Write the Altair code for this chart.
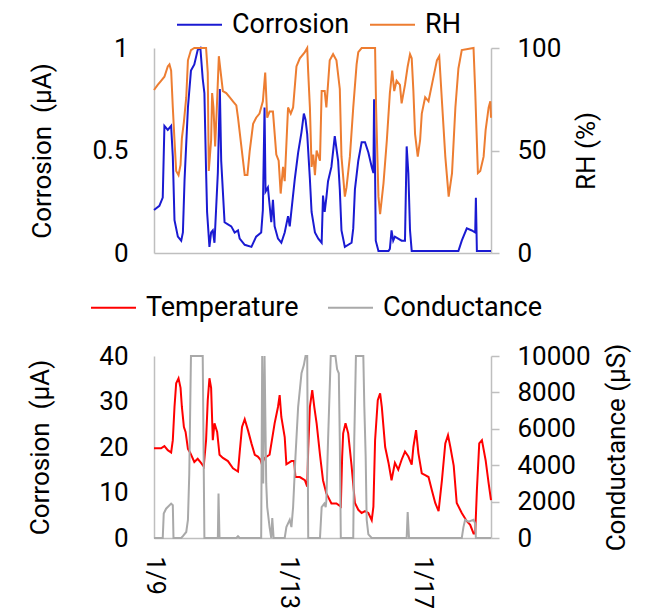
import altair as alt
import pandas as pd

# ---- data (day offset from 1/9 00:00, value) ----
corr_day = [0.00, 0.16, 0.26, 0.31, 0.41, 0.51, 0.56, 0.61, 0.71, 0.81, 0.86, 0.91, 1.01, 1.10, 1.20, 1.30,
            1.38, 1.45, 1.50, 1.55, 1.58, 1.65, 1.70, 1.75, 1.80, 1.90, 1.96, 2.00, 2.10, 2.20, 2.30, 2.40,
            2.50, 2.55, 2.70, 2.90, 3.04, 3.19, 3.24, 3.29, 3.32, 3.39, 3.49, 3.54, 3.59, 3.69, 3.79, 3.89,
            3.99, 4.04, 4.19, 4.29, 4.39, 4.46, 4.51, 4.56, 4.64, 4.69, 4.79, 4.89, 4.99, 5.03, 5.08, 5.13,
            5.18, 5.28, 5.38, 5.48, 5.53, 5.58, 5.68, 5.88, 5.93, 5.98, 6.08, 6.18, 6.28, 6.38, 6.48, 6.53,
            6.55, 6.58, 6.60, 6.68, 6.98, 7.02, 7.07, 7.12, 7.17, 7.37, 7.47, 7.52, 7.57, 7.62, 7.67, 9.06,
            9.16, 9.31, 9.46, 9.56, 9.58, 9.61, 10.03]
corr_val = [0.21, 0.23, 0.27, 0.62, 0.60, 0.62, 0.47, 0.16, 0.08, 0.06, 0.10, 0.36, 0.71, 0.89, 0.92, 0.99,
            1.00, 0.85, 0.78, 0.40, 0.20, 0.03, 0.10, 0.11, 0.05, 0.39, 0.80, 0.45, 0.15, 0.14, 0.13, 0.10,
            0.11, 0.07, 0.04, 0.03, 0.08, 0.10, 0.21, 0.71, 0.30, 0.32, 0.15, 0.26, 0.13, 0.07, 0.05, 0.10,
            0.18, 0.13, 0.36, 0.49, 0.59, 0.68, 0.65, 0.58, 0.36, 0.20, 0.10, 0.07, 0.05, 0.28, 0.20, 0.27,
            0.35, 0.42, 0.57, 0.45, 0.31, 0.11, 0.03, 0.05, 0.12, 0.31, 0.45, 0.54, 0.54, 0.49, 0.42, 0.39,
            0.75, 0.39, 0.06, 0.01, 0.01, 0.02, 0.11, 0.06, 0.08, 0.06, 0.06, 0.52, 0.39, 0.11, 0.01, 0.01,
            0.06, 0.12, 0.11, 0.10, 0.27, 0.01, 0.01]

rh_day = [0.00, 0.11, 0.21, 0.31, 0.41, 0.46, 0.51, 0.56, 0.61, 0.66, 0.73, 0.79, 0.83, 0.89, 0.96, 1.01,
          1.10, 1.20, 1.55, 1.60, 1.63, 1.70, 1.73, 1.77, 1.82, 1.87, 1.93, 2.00, 2.05, 2.15, 2.25, 2.35,
          2.45, 2.50, 2.60, 2.70, 2.78, 2.85, 2.95, 3.04, 3.14, 3.24, 3.31, 3.37, 3.44, 3.54, 3.64, 3.71,
          3.77, 3.84, 3.89, 3.99, 4.07, 4.14, 4.24, 4.34, 4.49, 4.56, 4.59, 4.64, 4.69, 4.74, 4.79, 4.84,
          4.94, 4.99, 5.08, 5.13, 5.23, 5.33, 5.43, 5.53, 5.58, 5.68, 5.73, 5.83, 5.93, 6.03, 6.08, 6.18,
          6.58, 6.61, 6.68, 6.73, 6.83, 6.93, 7.02, 7.09, 7.15, 7.22, 7.32, 7.37, 7.47, 7.55, 7.62, 7.67,
          7.72, 7.77, 7.85, 7.92, 7.97, 8.07, 8.17, 8.27, 8.42, 8.49, 8.57, 8.67, 8.77, 8.87, 8.97, 9.06,
          9.16, 9.51, 9.56, 9.64, 9.71, 9.81, 9.87, 9.96, 10.01, 10.03]
rh_val = [79.5, 82, 84, 86, 91, 92, 89, 71, 55, 40, 38, 43, 56, 64, 76, 94,
          99, 100, 100, 88, 40, 55, 78, 71, 52, 71, 96, 86, 79, 78, 76, 74,
          72, 66, 52, 38, 38, 50, 63, 66, 68, 74, 88, 66, 69, 69, 48, 45,
          29, 42, 35, 71, 68, 71, 91, 95, 98, 100, 88, 71, 42, 48, 38, 50,
          45, 79, 79, 71, 94, 97, 94, 80, 47, 27.5, 32, 47, 71, 92, 98, 100,
          100, 71, 27.5, 19, 34, 55, 78, 89, 79, 84, 82, 73, 82, 91, 97, 95,
          79, 58, 47, 55, 68, 76, 74, 82, 94, 96, 74, 47, 27.5, 39, 71, 90,
          99, 100, 79, 39, 40, 47, 60, 71, 74, 66]

temp_day = [0.00, 0.21, 0.31, 0.41, 0.51, 0.56, 0.61, 0.66, 0.73, 0.79, 0.83, 0.89, 0.94, 1.01, 1.08, 1.20,
            1.30, 1.40, 1.48, 1.55, 1.60, 1.65, 1.70, 1.75, 1.80, 1.88, 1.95, 2.05, 2.20, 2.35, 2.50, 2.55,
            2.62, 2.70, 2.80, 2.90, 3.00, 3.09, 3.17, 3.21, 3.29, 3.44, 3.59, 3.69, 3.74, 3.79, 3.89, 3.94,
            4.09, 4.17, 4.21, 4.34, 4.49, 4.56, 4.59, 4.64, 4.71, 4.77, 4.84, 4.94, 5.03, 5.13, 5.28, 5.43,
            5.56, 5.60, 5.63, 5.70, 5.78, 5.88, 5.98, 6.08, 6.18, 6.28, 6.38, 6.48, 6.53, 6.58, 6.66, 6.73,
            6.78, 6.88, 6.98, 7.07, 7.17, 7.27, 7.37, 7.47, 7.57, 7.67, 7.72, 7.80, 7.87, 7.97, 8.07, 8.17,
            8.27, 8.37, 8.47, 8.57, 8.67, 8.75, 8.82, 8.92, 9.01, 9.16, 9.31, 9.41, 9.51, 9.56, 9.61, 9.68,
            9.76, 9.87, 9.96, 10.03]
temp_val = [19.7, 19.7, 20.2, 19.3, 18.8, 21.5, 28.8, 34, 35.1, 33, 28.8, 24.4, 23.3, 19.6, 18.7, 16.7,
            17.4, 16.5, 15.7, 21.5, 30.3, 35.1, 33, 21.5, 25.2, 23.3, 18.3, 17.6, 16.9, 15.3, 14.6, 18.8,
            24.4, 26.1, 23.6, 20.8, 18.3, 17.9, 17.2, 16.2, 17.6, 18.3, 25.2, 28.8, 31.4, 26.6, 22.2, 16.2,
            16.9, 16.9, 13.4, 13.4, 12.7, 11.3, 19.6, 28.8, 32.5, 28.8, 25.2, 18.3, 12.7, 9.8, 7.6, 7.6,
            6.9, 17.8, 23, 25.2, 23, 15.9, 7.7, 6.2, 5.5, 5.9, 5.5, 3.9, 6.9, 21.5, 30.3, 31.8,
            28.8, 20, 16.5, 12.7, 16.5, 15.0, 17.2, 19.0, 17.9, 16.1, 20, 23.7, 18.6, 14.2, 13.8, 13.4,
            10.5, 7.7, 5.9, 12.7, 20.8, 22.6, 20, 15.9, 7.7, 5.5, 3.7, 2.9, 1.0, 1.0, 10.5, 20.8,
            21.5, 17.1, 12.0, 8.3]

cond_day = [0.00, 0.26, 0.29, 0.36, 0.51, 0.56, 0.58, 0.81, 0.86, 0.96, 1.01, 1.05, 1.10, 1.45, 1.50, 1.90,
            1.92, 1.95, 2.45, 2.50, 2.55, 3.19, 3.22, 3.25, 3.29, 3.34, 3.37, 3.44, 3.49, 3.52, 3.56, 3.89,
            3.94, 4.04, 4.09, 4.14, 4.21, 4.29, 4.39, 4.46, 4.51, 4.56, 4.59, 4.94, 4.99, 5.07, 5.11, 5.13,
            5.18, 5.26, 5.40, 5.45, 5.50, 5.53, 5.56, 5.93, 5.96, 6.01, 6.23, 6.26, 6.30, 6.33, 6.38, 6.48,
            7.52, 7.55, 7.59, 9.16, 9.21, 9.26, 9.36, 9.51, 9.56, 9.58, 10.03]
cond_val = [0, 0, 1340, 1610, 1890, 1800, 0, 0, 100, 330, 1000, 3540, 10000, 10000, 0, 0,
            2440, 0, 0, 100, 0, 0, 10000, 3000, 10000, 3000, 1700, 600, 0, 1100, 0, 0,
            600, 1000, 600, 1700, 4460, 7210, 9050, 9500, 10000, 10000, 0, 0, 1700, 1890, 1700, 2070,
            5350, 10000, 10000, 9270, 9050, 5350, 0, 0, 5350, 10000, 10000, 7210, 4460, 1000, 200, 0,
            0, 1430, 0, 0, 600, 1000, 900, 1000, 800, 0, 0]

top_series = ["Corrosion", "RH"]
top_colors = ["#1a1ad2", "#ed7d31"]
bot_series = ["Temperature", "Conductance"]
bot_colors = ["#ff0000", "#a9a9a9"]
date_ticks = [0, 4, 8]

FONT = "Roboto"
GRAY = "#bfbfbf"
FS = 26
LFS = 27
W, H1, H2 = 337, 205, 182
XMAX = 10.03


def frame(days, vals, name):
    return pd.DataFrame({"day": days, "value": vals, "series": name})


df_corr = frame(corr_day, corr_val, top_series[0])
df_rh = frame(rh_day, rh_val, top_series[1])
df_temp = frame(temp_day, temp_val, bot_series[0])
df_cond = frame(cond_day, cond_val, bot_series[1])

xscale = alt.Scale(domain=[0, XMAX], nice=False, zero=False)

x_top = alt.X("day:Q", scale=xscale,
              axis=alt.Axis(title=None, labels=False, ticks=False, grid=False,
                            domainColor=GRAY, domainWidth=1.5))
x_bot = alt.X("day:Q", scale=xscale,
              axis=alt.Axis(title=None, values=date_ticks, labelExpr="'1/' + (9 + datum.value)",
                            labelAngle=90, labelPadding=18, labelFontSize=25, ticks=False, grid=False,
                            domainColor=GRAY, domainWidth=1.5))


def left_axis(vals, title, tpad, fmt):
    return alt.Axis(orient="left", values=vals, format=fmt, title=title, ticks=False, tickSize=0,
                    labelPadding=26, titlePadding=tpad, grid=False,
                    domainColor=GRAY, domainWidth=1.5)


def right_axis(vals, title, fmt):
    return alt.Axis(orient="right", values=vals, format=fmt, title=title, tickSize=8,
                    tickColor=GRAY, tickWidth=1.5, labelPadding=18, titlePadding=13,
                    titleAngle=270, titleBaseline="top", grid=False,
                    domainColor=GRAY, domainWidth=1.5)


def legend(lx, ly, colpad):
    # stroke symbol 45px long drawn from a 15px symbol slot
    return alt.Legend(orient="none", legendX=lx, legendY=ly, direction="horizontal", title=None,
                      symbolType="M-3,0H3", symbolSize=225, symbolStrokeWidth=2,
                      labelFontSize=LFS, labelFont=FONT, labelColor="#000000",
                      labelOffset=19, columnPadding=colpad, padding=0)


top_color = alt.Color("series:N", scale=alt.Scale(domain=top_series, range=top_colors),
                      legend=legend(32, -37, 16))
bot_color = alt.Color("series:N", scale=alt.Scale(domain=bot_series, range=bot_colors),
                      legend=legend(-54, -62, 25))

top_corr = alt.Chart(df_corr).mark_line(strokeWidth=2).encode(
    x=x_top,
    y=alt.Y("value:Q", scale=alt.Scale(domain=[0, 1], nice=False),
            axis=left_axis([0, 0.5, 1], "Corrosion\u00a0 (µA)", 36, "~g")),
    color=top_color,
)
top_rh = alt.Chart(df_rh).mark_line(strokeWidth=2).encode(
    x=x_top,
    y=alt.Y("value:Q", scale=alt.Scale(domain=[0, 100], nice=False),
            axis=right_axis([0, 50, 100], "RH (%)", "d")),
    color=top_color,
)
top = alt.layer(top_corr, top_rh).resolve_scale(y="independent").properties(width=W, height=H1)

bot_temp = alt.Chart(df_temp).mark_line(strokeWidth=2).encode(
    x=x_bot,
    y=alt.Y("value:Q", scale=alt.Scale(domain=[0, 40], nice=False),
            axis=left_axis([0, 10, 20, 30, 40], "Corrosion\u00a0 (µA)", 45, "d")),
    color=bot_color,
)
bot_cond = alt.Chart(df_cond).mark_line(strokeWidth=2).encode(
    x=x_bot,
    y=alt.Y("value:Q", scale=alt.Scale(domain=[0, 10000], nice=False),
            axis=right_axis([0, 2000, 4000, 6000, 8000, 10000], "Conductance (µS)", "d")),
    color=bot_color,
)
bottom = alt.layer(bot_temp, bot_cond).resolve_scale(y="independent").properties(width=W, height=H2)

chart = alt.vconcat(top, bottom, spacing=103, bounds="flush").resolve_scale(
    color="independent").resolve_legend(color="independent").properties(
    padding={"left": 19, "top": 3, "right": 5, "bottom": 10},
).configure_axis(
    labelFont=FONT, titleFont=FONT, labelFontSize=FS, titleFontSize=FS,
    labelColor="#000000", titleColor="#000000", titleFontWeight="normal",
).configure_view(stroke=None)

chart.save("out.html", embed_options={"renderer": "svg", "actions": False})
